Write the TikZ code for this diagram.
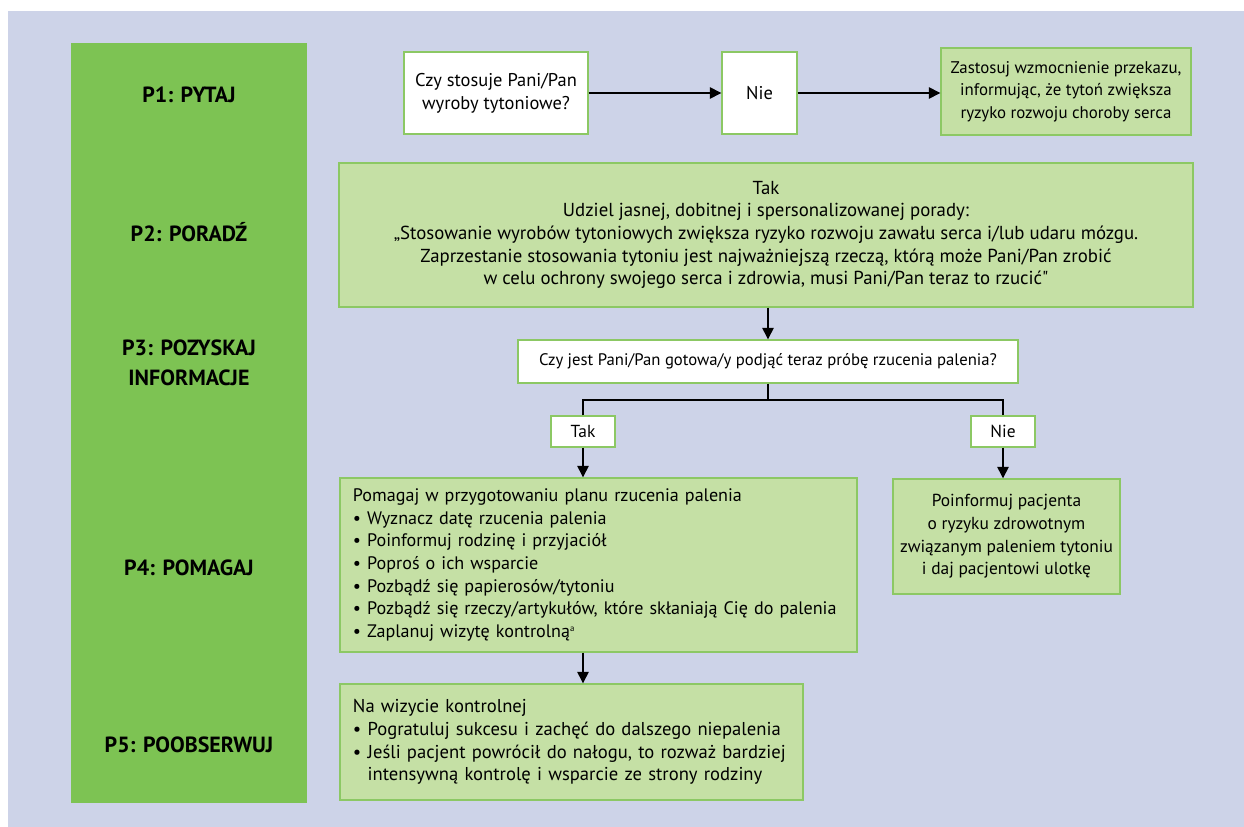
\documentclass[tikz,border=0pt]{standalone}
\usepackage{fontspec}
\setmainfont{PT Sans}
\usetikzlibrary{arrows.meta}

\definecolor{bglav}{HTML}{CDD3E8}
\definecolor{stepgreen}{HTML}{7DC353}
\definecolor{boxgreen}{HTML}{C5E0A5}
\definecolor{edgegreen}{HTML}{8CC864}

\tikzset{
  stage/.style={font=\fontsize{12.5}{17}\selectfont\bfseries, align=center},
  whitebox/.style={draw=edgegreen, line width=0.8pt, fill=white, align=center,
    font=\fontsize{9}{12.8}\selectfont, inner sep=0pt},
  greenbox/.style={whitebox, fill=boxgreen},
  fs/.style={font=\fontsize{#1}{12.9}\selectfont},
  flow/.style={-{Triangle[length=2.3mm,width=2.3mm]}, line width=0.8pt},
  link/.style={line width=0.8pt}
}

\begin{document}
\begin{tikzpicture}[x=0.2mm,y=-0.2mm]
  \useasboundingbox (0,0) rectangle (1244,827);
  \fill[bglav] (8,11) rectangle (1244,827);
  \fill[stepgreen] (71,43) rectangle (307,803);

  % stages
  \node[stage] (p1) at (189,95) {P1: PYTAJ};
  \node[stage] (p2) at (189,232) {P2: PORADŹ};
  \node[stage] (p3) at (189,363) {P3: POZYSKAJ\\INFORMACJE};
  \node[stage] (p4) at (189,568) {P4: POMAGAJ};
  \node[stage] (p5) at (189,745) {P5: POOBSERWUJ};

  % boxes
  \node[whitebox, fs=10.5, minimum width=36.8mm, minimum height=16.4mm] (ask) at (496,93)
    {Czy stosuje Pani/Pan\\wyroby tytoniowe?};
  \node[whitebox, fs=10.5, minimum width=15mm, minimum height=16.4mm] (no1) at (759.5,93) {Nie};
  \node[greenbox, fs=9.6, minimum width=50mm, minimum height=17.4mm] (warn) at (1066,91.5)
    {Zastosuj wzmocnienie przekazu,\\informując, że tytoń zwiększa\\ryzyko rozwoju choroby serca};
  \node[greenbox, fs=10.7, minimum width=170.8mm, minimum height=28.8mm] (advise) at (766,235)
    {Tak\\Udziel jasnej, dobitnej i spersonalizowanej porady:\\
     „Stosowanie wyrobów tytoniowych zwiększa ryzyko rozwoju zawału serca i/lub udaru mózgu.\\
     Zaprzestanie stosowania tytoniu jest najważniejszą rzeczą, którą może Pani/Pan zrobić\\
     w celu ochrony swojego serca i zdrowia, musi Pani/Pan teraz to rzucić\textquotedbl};
  \node[whitebox, fs=9.5, minimum width=100mm, minimum height=8.6mm] (ready) at (768,361.5)
    {Czy jest Pani/Pan gotowa/y podjąć teraz próbę rzucenia palenia?};
  \node[whitebox, fs=9.9, minimum width=12.8mm, minimum height=6.2mm] (yes) at (583,431.5) {Tak};
  \node[whitebox, fs=9.9, minimum width=12.8mm, minimum height=6.2mm] (no2) at (1003,431.5) {Nie};
  \node[greenbox, fs=10.3, minimum width=103.4mm, minimum height=34.8mm, text width=98.2mm,
    align=left] (help) at (598.5,565)
    {Pomagaj w przygotowaniu planu rzucenia palenia\\
     \textbullet~Wyznacz datę rzucenia palenia\\
     \textbullet~Poinformuj rodzinę i przyjaciół\\
     \textbullet~Poproś o ich wsparcie\\
     \textbullet~Pozbądź się papierosów/tytoniu\\
     \textbullet~Pozbądź się rzeczy/artykułów, które skłaniają Cię do palenia\\
     \textbullet~Zaplanuj wizytę kontrolną\textsuperscript{\tiny a}};
  \node[greenbox, fs=9.9, minimum width=45.4mm, minimum height=23mm] (inform) at (1006.5,536.5)
    {Poinformuj pacjenta\\o ryzyku zdrowotnym\\związanym paleniem tytoniu\\i daj pacjentowi ulotkę};
  \node[greenbox, fs=10.6, minimum width=92.6mm, minimum height=23.2mm, text width=87.4mm,
    align=left] (follow) at (571.5,742)
    {Na wizycie kontrolnej\\
     \textbullet~Pogratuluj sukcesu i zachęć do dalszego niepalenia\\
     \textbullet~Jeśli pacjent powrócił do nałogu, to rozważ bardziej\\
     \phantom{\textbullet}~intensywną kontrolę i wsparcie ze strony rodziny};

  % connectors
  \coordinate (split) at (768,400);
  \draw[flow] (ask) -- (no1);
  \draw[flow] (no1.east) -- (no1.east -| warn.west);
  \draw[flow] (advise.south -| ready) -- (ready.north);
  \draw[link] (ready.south) -- (split);
  \draw[link] (yes) |- (split) -| (no2);
  \draw[flow] (yes) -- (yes |- help.north);
  \draw[flow] (no2) -- (no2 |- inform.north);
  \draw[flow] (help.south -| yes) -- (follow.north -| yes);
\end{tikzpicture}
\end{document}
